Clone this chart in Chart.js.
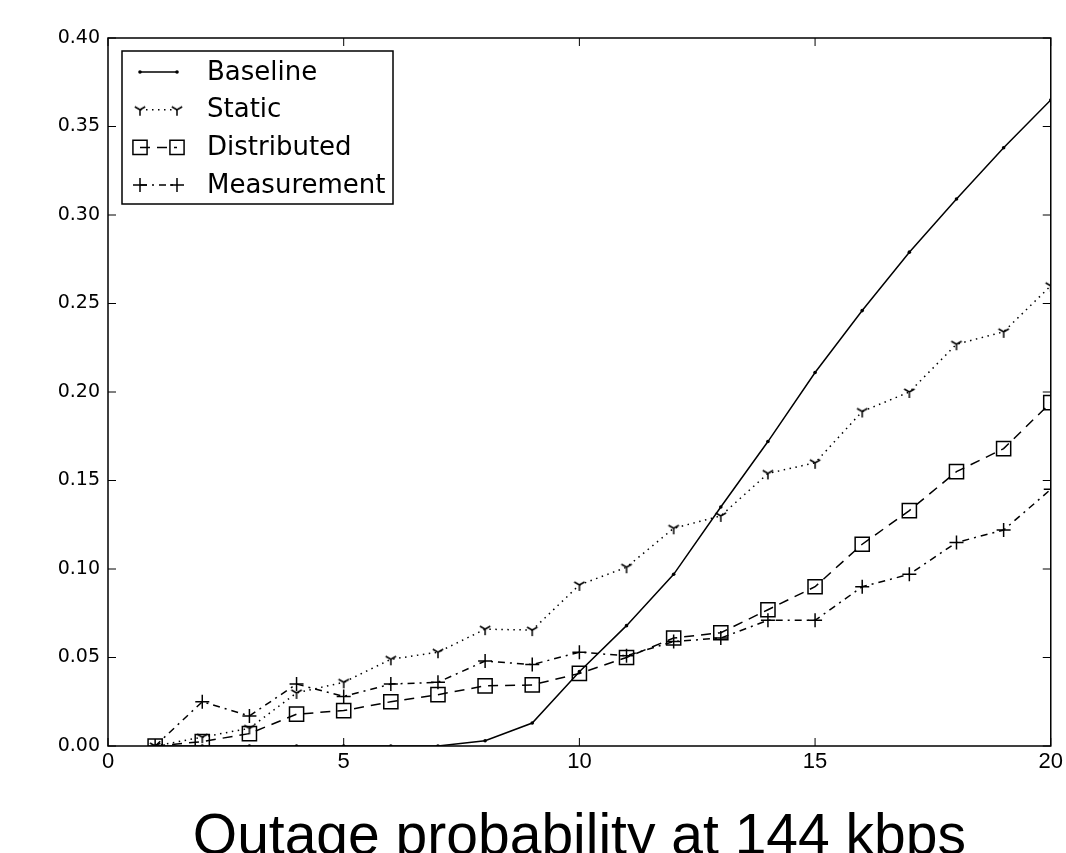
<!DOCTYPE html>
<html>
<head>
<meta charset="utf-8">
<script src="https://cdn.jsdelivr.net/npm/chart.js@4.4.1/dist/chart.umd.min.js"></script>
<style>
    html, body { margin: 0; padding: 0; background: #fff; }
    #wrap { width: 1066px; height: 853px; }
</style>
</head>
<body>
<div id="wrap"><canvas id="outage" width="1066" height="853"></canvas></div>
<script>

//
// Data
//

const users = [1, 2, 3, 4, 5, 6, 7, 8, 9, 10, 11, 12, 13, 14, 15, 16, 17, 18, 19, 20];

const baseline = [0, 0, 0, 0, 0, 0, 0, 0.003, 0.013, 0.042, 0.068, 0.097, 0.135, 0.172, 0.211, 0.246, 0.279, 0.309, 0.338, 0.365];
const staticAlloc = [0, 0.005, 0.010, 0.030, 0.036, 0.049, 0.053, 0.066, 0.0655, 0.091, 0.101, 0.123, 0.130, 0.154, 0.160, 0.189, 0.200, 0.227, 0.234, 0.260];
const distributed = [0, 0.0025, 0.007, 0.018, 0.020, 0.025, 0.029, 0.034, 0.0345, 0.041, 0.050, 0.061, 0.064, 0.077, 0.090, 0.114, 0.133, 0.155, 0.168, 0.194];
const measurement = [0, 0.025, 0.017, 0.035, 0.028, 0.035, 0.036, 0.048, 0.046, 0.053, 0.051, 0.059, 0.061, 0.071, 0.071, 0.090, 0.097, 0.115, 0.122, 0.145];

const seriesNames = ["Baseline", "Static", "Distributed", "Measurement"];

const xTicks = [0, 5, 10, 15, 20];
const yTicks = [0, 0.05, 0.10, 0.15, 0.20, 0.25, 0.30, 0.35, 0.40];

const chartTitle = "Outage probability at 144 kbps";

//
// tri_down marker ("Y"), like matplotlib's '1'
//

function triDown(r) {
    const c = document.createElement("canvas");
    const s = Math.ceil(r * 2 + 4);
    c.width = s;
    c.height = s;
    const g = c.getContext("2d");
    const m = s / 2;
    g.strokeStyle = "#000";
    g.lineWidth = 1.5;
    g.beginPath();
    g.moveTo(m, m); g.lineTo(m, m + r);
    g.moveTo(m, m); g.lineTo(m - 0.866 * r, m - 0.5 * r);
    g.moveTo(m, m); g.lineTo(m + 0.866 * r, m - 0.5 * r);
    g.stroke();
    return c;
}

function toPoints(values) {
    return users.map((u, i) => ({ x: u, y: values[i] }));
}

//
// Frame with inward ticks on all four sides
//

const mplFrame = {
    id: "mplFrame",

    afterDatasetsDraw(chart) {
        const { ctx, chartArea: { left, right, top, bottom }, scales: { x, y } } = chart;

        ctx.save();
        ctx.strokeStyle = "#000";
        ctx.lineWidth = 1;
        ctx.beginPath();

        xTicks.forEach(v => {
            const px = x.getPixelForValue(v);
            ctx.moveTo(px, bottom); ctx.lineTo(px, bottom - 8);
            ctx.moveTo(px, top); ctx.lineTo(px, top + 8);
        });

        yTicks.forEach(v => {
            const py = y.getPixelForValue(v);
            ctx.moveTo(left, py); ctx.lineTo(left + 8, py);
            ctx.moveTo(right, py); ctx.lineTo(right - 8, py);
        });

        ctx.stroke();

        ctx.lineWidth = 1.5;
        ctx.strokeRect(left, top, right - left, bottom - top);
        ctx.restore();
    }
};

//
// Legend: line sample with a marker at each end
//

const mplLegend = {
    id: "mplLegend",

    afterDraw(chart) {
        const { ctx, chartArea: { left, top } } = chart;

        const x0 = left + 14;
        const y0 = top + 13;
        const w = 271;
        const h = 153;

        ctx.save();
        ctx.fillStyle = "#fff";
        ctx.fillRect(x0, y0, w, h);
        ctx.strokeStyle = "#000";
        ctx.lineWidth = 1.5;
        ctx.strokeRect(x0, y0, w, h);

        ctx.font = "26px 'DejaVu Sans'";
        ctx.textBaseline = "middle";

        chart.data.datasets.forEach((ds, i) => {
            const y = y0 + 21 + i * 37.7;
            const xa = x0 + 18;
            const xb = x0 + 55;

            ctx.strokeStyle = ds.borderColor;
            ctx.lineWidth = ds.borderWidth;
            ctx.setLineDash(ds.borderDash || []);
            ctx.beginPath();
            ctx.moveTo(xa, y);
            ctx.lineTo(xb, y);
            ctx.stroke();
            ctx.setLineDash([]);

            [xa, xb].forEach(px => {
                ctx.fillStyle = ds.pointBackgroundColor;
                ctx.strokeStyle = ds.pointBorderColor;
                ctx.lineWidth = ds.pointBorderWidth;
                Chart.helpers.drawPoint(ctx, {
                    pointStyle: ds.pointStyle,
                    radius: ds.pointRadius,
                    borderWidth: ds.pointBorderWidth,
                    rotation: 0
                }, px, y);
            });

            ctx.fillStyle = "#000";
            ctx.fillText(ds.label, x0 + 85, y + 1);
        });

        ctx.restore();
    }
};

//
// Chart
//

const common = {
    borderColor: "#000",
    borderWidth: 1.5,
    pointBorderColor: "#000",
    pointBorderWidth: 1.5,
    clip: 0,
    tension: 0
};

new Chart(document.getElementById("outage"), {
    type: "line",

    data: {
        datasets: [
            {
                ...common,
                label: seriesNames[0],
                data: toPoints(baseline),
                pointStyle: "circle",
                pointRadius: 1.8,
                pointBorderWidth: 0,
                pointBackgroundColor: "#000"
            },
            {
                ...common,
                label: seriesNames[1],
                data: toPoints(staticAlloc),
                borderDash: [1.5, 4.5],
                pointStyle: triDown(6),
                pointRadius: 6,
                pointBackgroundColor: "#000"
            },
            {
                ...common,
                label: seriesNames[2],
                data: toPoints(distributed),
                borderDash: [10, 7],
                pointStyle: "rect",
                pointRadius: 10,
                pointBackgroundColor: "rgba(0,0,0,0)"
            },
            {
                ...common,
                label: seriesNames[3],
                data: toPoints(measurement),
                borderDash: [7, 5, 2, 5],
                pointStyle: "cross",
                pointRadius: 7,
                pointBackgroundColor: "#000"
            }
        ]
    },

    options: {
        responsive: false,
        animation: false,
        devicePixelRatio: 1,

        layout: {
            padding: { top: 38, right: 13, left: 0, bottom: 0 }
        },

        plugins: {
            legend: { display: false },
            tooltip: { enabled: false }
        },

        scales: {
            x: {
                type: "linear",
                min: 0,
                max: 20,
                afterBuildTicks: scale => {
                    scale.ticks = xTicks.map(v => ({ value: v }));
                },
                afterFit: scale => { scale.height = 107; },
                grid: { display: false, drawTicks: false },
                border: { display: false },
                ticks: {
                    padding: 3,
                    color: "#000",
                    maxRotation: 0,
                    font: { family: "'Liberation Sans'", size: 22 }
                },
                title: {
                    display: true,
                    text: chartTitle,
                    color: "#000",
                    padding: { top: 0, bottom: 3 },
                    font: { family: "'Liberation Sans'", size: 57, lineHeight: 0.4 }
                }
            },
            y: {
                min: 0,
                max: 0.40,
                afterBuildTicks: scale => {
                    scale.ticks = yTicks.map(v => ({ value: v }));
                },
                afterFit: scale => { scale.width = 108; },
                grid: { display: false, drawTicks: false },
                border: { display: false },
                ticks: {
                    padding: 8,
                    color: "#000",
                    font: { family: "'DejaVu Sans'", size: 19 },
                    callback: v => v.toFixed(2)
                }
            }
        }
    },

    plugins: [mplFrame, mplLegend]
});

</script>
</body>
</html>
